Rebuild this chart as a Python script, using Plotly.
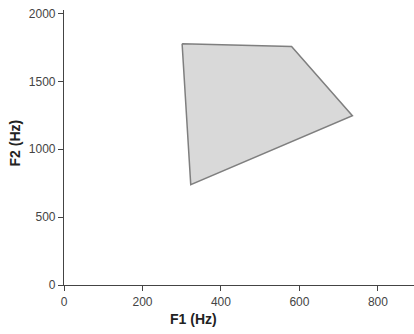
import plotly.graph_objects as go

# Vowel space polygon vertices (F1, F2) in Hz
f1_values = [301, 580, 735, 323, 301]
f2_values = [1776, 1756, 1246, 739, 1776]
x_ticks = [0, 200, 400, 600, 800]
y_ticks = [0, 500, 1000, 1500, 2000]
x_title = "F1 (Hz)"
y_title = "F2 (Hz)"

FONT = "Liberation Sans, Arial, sans-serif"

fig = go.Figure()
fig.add_trace(go.Scatter(
    x=f1_values, y=f2_values, mode="lines", fill="toself",
    fillcolor="#d9d9d9", line=dict(color="#7f7f7f", width=1.5),
    hoverinfo="skip", showlegend=False,
))

axis_common = dict(
    showgrid=False, zeroline=False, showline=True, linecolor="#444444", linewidth=1.2,
    ticks="outside", ticklen=5, tickcolor="#444444", automargin=False,
    tickfont=dict(family=FONT, size=12, color="#444444"),
)
fig.update_xaxes(range=[0, 892], tickvals=x_ticks, **axis_common)
fig.update_yaxes(range=[0, 2025], tickvals=y_ticks, **axis_common)

fig.add_annotation(text="<b>" + x_title + "</b>", xref="paper", yref="paper",
                   x=0.3686, y=0, yshift=-34, xanchor="center", yanchor="middle",
                   showarrow=False, font=dict(family=FONT, size=14, color="#222222"))
fig.add_annotation(text="<b>" + y_title + "</b>", xref="paper", yref="paper",
                   x=0, y=0.5, xshift=-50, yshift=4, xanchor="center", yanchor="middle",
                   textangle=-90, showarrow=False,
                   font=dict(family=FONT, size=14, color="#222222"))

fig.update_layout(
    width=414, height=334,
    margin=dict(l=64, r=0, t=10, b=49),
    plot_bgcolor="white", paper_bgcolor="white",
)
fig.write_html("out.html", config={"displayModeBar": False},
               post_script="document.body.style.margin='0';document.body.style.overflow='hidden';")
